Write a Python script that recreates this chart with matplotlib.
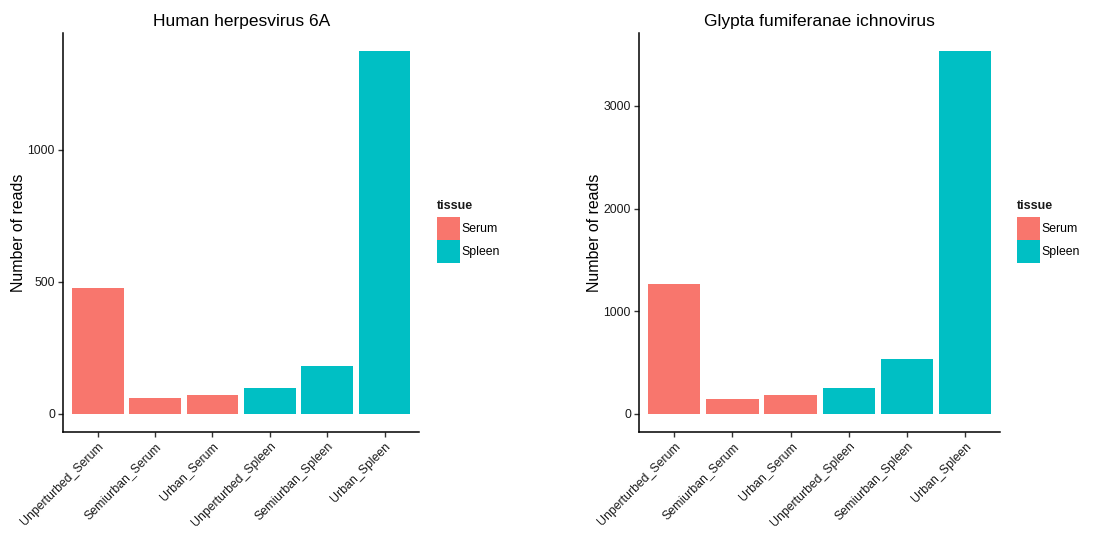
import matplotlib
matplotlib.use("Agg")
import matplotlib.pyplot as plt
from matplotlib.patches import Patch

plt.rcParams['font.family'] = ['Liberation Sans', 'DejaVu Sans']

categories = ["Unperturbed_Serum", "Semiurban_Serum", "Urban_Serum",
              "Unperturbed_Spleen", "Semiurban_Spleen", "Urban_Spleen"]
tissue = ["Serum", "Serum", "Serum", "Spleen", "Spleen", "Spleen"]

hhv6a_reads = [476, 60, 72, 98, 182, 1373]
glypta_reads = [1266, 146, 185, 253, 535, 3534]

titles = ["Human herpesvirus 6A", "Glypta fumiferanae ichnovirus"]
yticks_sets = [[0, 500, 1000], [0, 1000, 2000, 3000]]

tissue_colors = {"Serum": "#F8766D", "Spleen": "#00BFC4"}

W, H = 1113, 533
fig = plt.figure(figsize=(W / 100, H / 100), dpi=100)

panels = [
    (hhv6a_reads, [63.3 / W, 1 - 432 / H, (419 - 63.3) / W, (432 - 33) / H], 437),
    (glypta_reads, [639.3 / W, 1 - 432 / H, (1000 - 639.3) / W, (432 - 33) / H], 1017),
]

text_color = "#1a1a1a"

for (values, rect, leg_x), title, yticks in zip(panels, titles, yticks_sets):
    ax = fig.add_axes(rect)
    xs = list(range(len(categories)))
    ax.bar(xs, values, width=0.9, color=[tissue_colors[t] for t in tissue])
    vmax = max(values)
    ax.set_ylim(-0.05 * vmax, 1.05 * vmax)
    ax.set_xlim(-0.6, len(categories) - 0.4)
    ax.set_yticks(yticks)
    ax.set_yticklabels([str(v) for v in yticks], fontsize=8.8, color=text_color)
    ax.set_xticks(xs)
    ax.set_xticklabels(categories, rotation=45, ha="right", va="top",
                       rotation_mode="anchor", fontsize=8.8, color=text_color)
    for s in ("top", "right"):
        ax.spines[s].set_visible(False)
    for s in ("left", "bottom"):
        ax.spines[s].set_linewidth(1.1)
        ax.spines[s].set_color("black")
    ax.tick_params(axis="both", length=3.5, width=1.0, color="#333333", pad=2.5)
    ax.set_ylabel("Number of reads", fontsize=11.4, color="black", labelpad=1)
    ax.set_title(title, fontsize=12.5, color="black", pad=5)

    # legend: bold title placed above contiguous colour keys
    fig.text(leg_x / W, 1 - 206.5 / H, "tissue", fontsize=9, fontweight="bold",
             ha="left", va="center", color=text_color)
    handles = [Patch(facecolor=tissue_colors[k], edgecolor="none", label=k)
               for k in ("Serum", "Spleen")]
    fig.legend(handles=handles, loc="upper left",
               bbox_to_anchor=(leg_x / W, 1 - 217 / H), frameon=False,
               fontsize=8.8, handlelength=1.88, handleheight=2.52,
               handletextpad=0.15, labelspacing=0.0,
               borderpad=0, borderaxespad=0)

fig.savefig("out.png", dpi=100)
